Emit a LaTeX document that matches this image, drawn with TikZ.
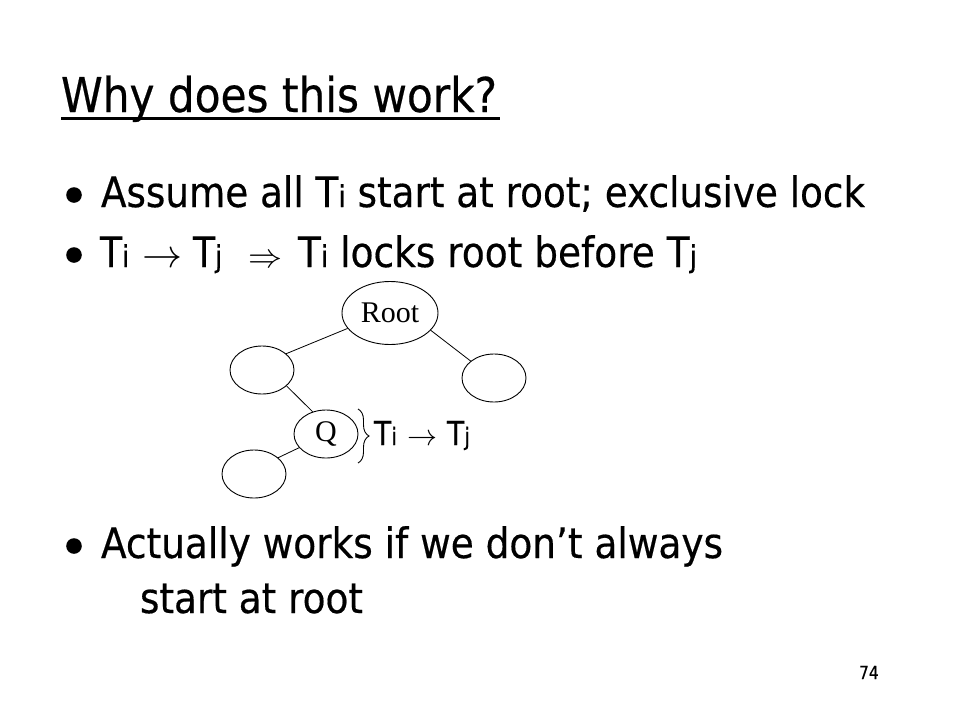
\documentclass[tikz,border=0pt]{standalone}
\usepackage{graphicx}
\usepackage{fontspec}
\setmainfont{DejaVu Sans}[FakeStretch=0.86, FakeBold=0.4]
\newfontfamily\treeserif{Liberation Serif}
\usetikzlibrary{shapes.geometric,decorations.pathreplacing}
\newcommand\sbx[2]{{\fontsize{#1}{#1}\selectfont #2}}
\newcommand\fitw[2]{\resizebox{#1}{\height}{#2}}
\newcommand\arr[1]{\resizebox{#1}{!}{$\rightarrow$}}
\newcommand\darr[1]{\resizebox{#1}{!}{$\Rightarrow$}}
\tikzset{
  txt/.style={anchor=base west, inner sep=0pt, outer sep=0pt},
  body/.style={txt, font=\fontsize{42}{42}\selectfont},
  lbl/.style={txt, font=\fontsize{33}{33}\selectfont},
  tnode/.style={draw, ellipse, line width=0.9pt, inner sep=0pt,
    minimum width=64pt, minimum height=48pt, font=\treeserif\fontsize{30}{30}\selectfont},
  edge/.style={line width=0.8pt},
  bulletdot/.style={fill=black}
}
\begin{document}
\begin{tikzpicture}[x=1pt,y=-1pt]
\useasboundingbox[fill=white] (0,0) rectangle (960,720);

% title
\node[txt, font=\fontsize{48}{48}\selectfont] (title) at (61,112) {\fitw{436pt}{Why does this work?}};
\coordinate (ul1) at (61,118.5);
\coordinate (ul2) at (500,118.5);
\draw[line width=2.6pt] (ul1) -- (ul2);

% bullet 1
\fill[bulletdot] (74,195) circle (7.8);
\node[body] (b1) at (101,207) {\fitw{764pt}{Assume all T\sbx{30}{i} start at root; exclusive lock}};

% bullet 2
\fill[bulletdot] (74,255) circle (7.8);
\node[body] (b2a) at (100,267) {T\sbx{30}{i}};
\node[body] (b2b) at (142,267) {\arr{40pt}};
\node[body] (b2c) at (193,267) {T\sbx{30}{j}};
\node[body] (b2d) at (248,267) {\darr{34pt}};
\node[body] (b2e) at (298,267) {\fitw{399pt}{T\sbx{30}{i} locks root before T\sbx{30}{j}}};

% tree
\node[tnode, minimum width=96pt, minimum height=63pt] (root) at (390,313) {Root};
\node[tnode] (left) at (262,370) {};
\node[tnode] (right) at (494,378) {};
\node[tnode] (q) at (326,434) {Q};
\node[tnode] (bl) at (254,474) {};
\draw[edge] (root.200) -- (left.34);
\draw[edge] (root.-23) -- (right.144);
\draw[edge] (left.-33) -- (q.121);
\draw[edge] (q.207) -- (bl.34);

% brace and label
\coordinate (br1) at (358,409);
\coordinate (br2) at (358,463);
\draw[line width=0.9pt, decorate, decoration={brace, amplitude=11pt}] (br1) -- (br2);
\node[lbl] (la) at (374,445) {T\sbx{24}{i}};
\node[lbl] (lb) at (407,445) {\arr{30pt}};
\node[lbl] (lc) at (447,445) {T\sbx{24}{j}};

% bullet 3
\fill[bulletdot] (74,546) circle (7.8);
\node[body] (b3) at (101,558) {\fitw{622pt}{Actually works if we don’t always}};
\node[body] (b3b) at (140,613) {\fitw{223pt}{start at root}};

% page number
\node[txt, font=\fontsize{18}{18}\selectfont] (pg) at (859,679) {74};
\end{tikzpicture}
\end{document}
